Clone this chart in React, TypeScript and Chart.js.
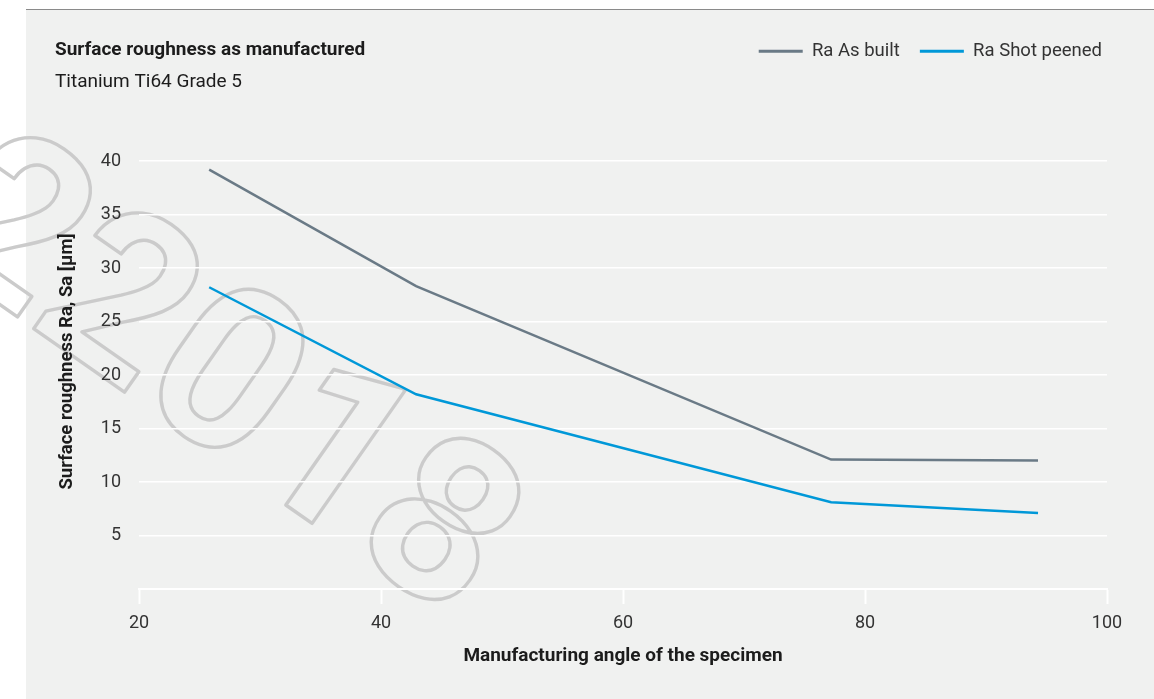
import React, { useEffect, useRef } from 'react';
import { Chart, registerables } from 'chart.js';

Chart.register(...registerables);

// ---- data ----
const angles = [25.8, 42.9, 77.2, 94.3];
const raAsBuilt = [39.2, 28.3, 12.1, 12.0];
const raShotPeened = [28.2, 18.2, 8.1, 7.1];
const seriesLabels = ['Ra As built', 'Ra Shot peened'];
const xTickValues = [20, 40, 60, 80, 100];
const yTickValues = [5, 10, 15, 20, 25, 30, 35, 40];
const chartTitle = 'Surface roughness as manufactured';
const chartSubtitle = 'Titanium Ti64 Grade 5';
const xAxisTitle = 'Manufacturing angle of the specimen';
const yAxisTitle = 'Surface roughness Ra, Sa [µm]';
const watermarkText = '22018';

// ---- style ----
const W = 1154;
const H = 699;
const FAMILY = "Roboto, 'Open Sans', 'DejaVu Sans', sans-serif";
const GRAY = '#6a7a86';
const BLUE = '#0098d8';
const PANEL_BG = '#f0f1f0';
const TEXT = '#1c1c1c';
const TICK_TEXT = '#333333';
const PAD = { left: 56, right: 47, top: 22, bottom: 0 };
const AREA_TOP = 161;
const AREA_BOTTOM = 589;
const AREA_LEFT = 139;
const LEGEND_SHIFT = 15;

const panelPlugin = {
  id: 'panelPlugin',
  afterInit(chart: any) {
    const lg = chart.legend;
    if (lg && !lg.__patched) {
      const origFit = lg.fit;
      lg.fit = function () {
        origFit.call(this);
        this.height = AREA_TOP - PAD.top;
      };
      const origDraw = lg.draw;
      lg.draw = function () {
        const r = this.right;
        this.right = r + LEGEND_SHIFT;
        origDraw.call(this);
        this.right = r;
      };
      lg.__patched = true;
    }
  },
  afterLayout(chart: any) {
    const s = chart.scales.y;
    if (s && !s.__patched) {
      const orig = s.drawTitle;
      s.drawTitle = function () {
        const c = this.ctx;
        c.save();
        c.translate(0, -13.5);
        orig.call(this);
        c.restore();
      };
      s.__patched = true;
    }
  },
  beforeDraw(chart: any) {
    const ctx = chart.ctx as CanvasRenderingContext2D;
    ctx.save();
    ctx.fillStyle = '#ffffff';
    ctx.fillRect(0, 0, W, H);
    ctx.fillStyle = PANEL_BG;
    ctx.fillRect(26, 9, W - 26, H - 9);
    ctx.strokeStyle = '#8a8a8a';
    ctx.lineWidth = 1.2;
    ctx.beginPath();
    ctx.moveTo(26, 9.5);
    ctx.lineTo(W, 9.5);
    ctx.stroke();

    // watermark
    ctx.save();
    ctx.translate(218, 388);
    ctx.rotate((35 * Math.PI) / 180);
    ctx.font = `bold 228px ${FAMILY}`;
    ctx.textAlign = 'center';
    ctx.textBaseline = 'middle';
    ctx.strokeStyle = '#cbcbcb';
    ctx.lineWidth = 3.4;
    ctx.lineJoin = 'round';
    ctx.strokeText(watermarkText, 0, 0);
    ctx.restore();

    // title + subtitle
    ctx.fillStyle = TEXT;
    ctx.textAlign = 'left';
    ctx.textBaseline = 'alphabetic';
    ctx.font = `bold 19px ${FAMILY}`;
    ctx.fillText(chartTitle, 55, 55);
    ctx.font = `19px ${FAMILY}`;
    ctx.fillText(chartSubtitle, 55, 86.5);
    ctx.restore();
  },
};

export default function App() {
  const ref = useRef<HTMLCanvasElement>(null);

  useEffect(() => {
    document.body.style.margin = '0';
    const canvas = ref.current;
    if (!canvas) return;

    const chart = new Chart(canvas, {
      type: 'line',
      data: {
        datasets: [
          {
            label: seriesLabels[0],
            data: angles.map((a, i) => ({ x: a, y: raAsBuilt[i] })),
            borderColor: GRAY,
            backgroundColor: GRAY,
            borderWidth: 2.5,
            pointRadius: 0,
            tension: 0,
            fill: false,
          },
          {
            label: seriesLabels[1],
            data: angles.map((a, i) => ({ x: a, y: raShotPeened[i] })),
            borderColor: BLUE,
            backgroundColor: BLUE,
            borderWidth: 2.5,
            pointRadius: 0,
            tension: 0,
            fill: false,
          },
        ],
      },
      options: {
        responsive: false,
        animation: false,
        layout: { padding: PAD },
        plugins: {
          title: { display: false },
          tooltip: { enabled: false },
          legend: {
            display: true,
            position: 'top',
            align: 'end',
            labels: {
              boxWidth: 44,
              boxHeight: 3,
              padding: 20,
              color: TICK_TEXT,
              font: { family: FAMILY, size: 18.5 },
              generateLabels: (c: any) =>
                c.data.datasets.map((ds: any, i: number) => ({
                  text: ds.label,
                  fillStyle: ds.borderColor,
                  strokeStyle: ds.borderColor,
                  lineWidth: 0,
                  hidden: false,
                  datasetIndex: i,
                  fontColor: TICK_TEXT,
                })),
            },
          },
        },
        scales: {
          x: {
            type: 'linear',
            min: 20,
            max: 100,
            afterBuildTicks: (scale: any) => {
              scale.ticks = xTickValues.map((v) => ({ value: v }));
            },
            afterFit: (scale: any) => {
              scale.height = H - AREA_BOTTOM - PAD.bottom;
            },
            grid: {
              drawOnChartArea: false,
              drawTicks: true,
              tickLength: 15,
              tickColor: '#ffffff',
              tickWidth: 2,
              color: '#ffffff',
            },
            border: { display: true, color: '#ffffff', width: 2 },
            ticks: {
              padding: 9,
              color: TICK_TEXT,
              font: { family: FAMILY, size: 18 },
              maxRotation: 0,
            },
            title: {
              display: true,
              text: xAxisTitle,
              color: TEXT,
              font: { family: FAMILY, size: 19, weight: 'bold' },
              padding: { top: 0, bottom: 31 },
            },
          },
          y: {
            type: 'linear',
            min: 0,
            max: 40,
            afterBuildTicks: (scale: any) => {
              scale.ticks = yTickValues.map((v) => ({ value: v }));
            },
            afterFit: (scale: any) => {
              scale.width = AREA_LEFT - PAD.left;
            },
            grid: {
              drawTicks: false,
              color: '#ffffff',
              lineWidth: 1.5,
            },
            border: { display: false },
            ticks: {
              padding: 18,
              color: TICK_TEXT,
              font: { family: FAMILY, size: 18 },
            },
            title: {
              display: true,
              text: yAxisTitle,
              color: TEXT,
              font: { family: FAMILY, size: 18.5, weight: 'bold' },
              padding: { top: 0, bottom: 0 },
            },
          },
        },
      } as any,
      plugins: [panelPlugin as any],
    });

    return () => chart.destroy();
  }, []);

  return (
    <div style={{ width: W, height: H }}>
      <canvas ref={ref} width={W} height={H} style={{ display: 'block', width: W, height: H }} />
    </div>
  );
}
